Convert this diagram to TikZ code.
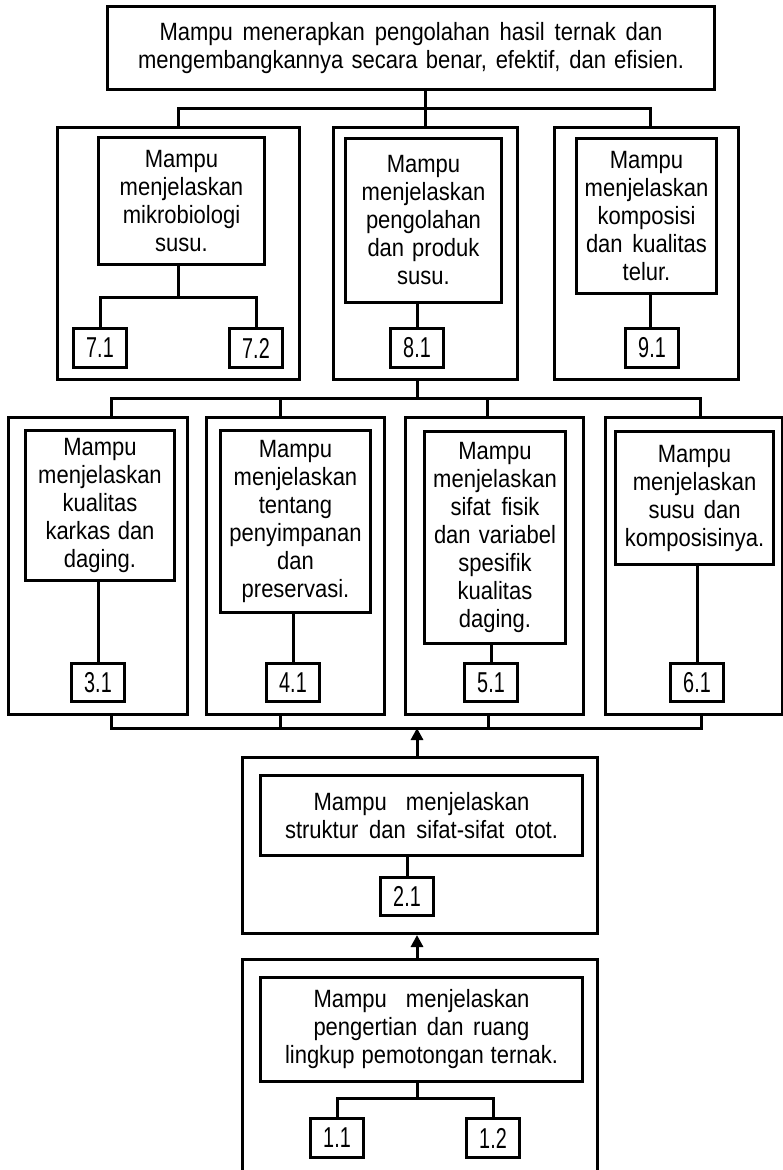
\documentclass[tikz,border=0pt]{standalone}
\usepackage{fontspec}
\setmainfont{Liberation Sans}[FakeStretch=0.88]
\usepackage{graphicx}
\usetikzlibrary{arrows.meta}
\newcommand\jl[2]{\makebox[#1pt][s]{#2}}
\newcommand\nb[1]{\scalebox{0.9}[1.15]{#1}}
\begin{document}
\begin{tikzpicture}[x=1pt,y=-1pt,
  box/.style={draw, line width=3pt, inner sep=0pt, anchor=north west},
  txt/.style={box, align=center, font=\fontsize{25}{28}\selectfont},
  num/.style={box, minimum width=53pt, minimum height=39pt, font=\fontsize{25}{28}\selectfont},
  conn/.style={line width=3pt},
  arr/.style={conn, -{Triangle[length=12pt,width=12pt]}}]
\useasboundingbox (0,0) rectangle (782,1170);

% top
\node[txt, minimum width=607pt, minimum height=83pt] (top) at (106,5)
  {\jl{503}{Mampu menerapkan pengolahan hasil ternak dan}\\\jl{546}{mengembangkannya secara benar, efektif, dan efisien.}};

% row 1
\node[box, minimum width=242pt, minimum height=252pt] (o7) at (56,126) {};
\node[txt, minimum width=166pt, minimum height=127pt] (i7) at (97,136) {Mampu\\menjelaskan\\mikrobiologi\\susu.};
\node[num] (n71) at (72,327) {\nb{7.1}};
\node[num] (n72) at (228,327) {\nb{7.2}};

\node[box, minimum width=184pt, minimum height=252pt] (o8) at (332,126) {};
\node[txt, minimum width=156pt, minimum height=164pt] (i8) at (344,137) {Mampu\\menjelaskan\\pengolahan\\\jl{112}{dan produk}\\susu.};
\node[num] (n81) at (389,327) {\nb{8.1}};

\node[box, minimum width=184pt, minimum height=252pt] (o9) at (553,126) {};
\node[txt, minimum width=140pt, minimum height=155pt] (i9) at (575,137) {Mampu\\menjelaskan\\komposisi\\\jl{121}{dan kualitas}\\telur.};
\node[num] (n91) at (624,327) {\nb{9.1}};

% row 2
\node[box, minimum width=179pt, minimum height=297pt] (o3) at (7,416) {};
\node[txt, minimum width=149pt, minimum height=150pt] (i3) at (24,429) {Mampu\\menjelaskan\\kualitas\\\jl{109}{karkas dan}\\daging.};
\node[num, minimum height=38pt] (n31) at (70,662) {\nb{3.1}};

\node[box, minimum width=178pt, minimum height=297pt] (o4) at (205,416) {};
\node[txt, minimum width=150pt, minimum height=182pt] (i4) at (219,429) {Mampu\\menjelaskan\\tentang\\penyimpanan\\dan\\preservasi.};
\node[num, minimum height=38pt] (n41) at (265,662) {\nb{4.1}};

\node[box, minimum width=178pt, minimum height=297pt] (o5) at (404,416) {};
\node[txt, minimum width=141pt, minimum height=212pt] (i5) at (423,430) {Mampu\\menjelaskan\\\jl{89}{sifat fisik}\\\jl{122}{dan variabel}\\spesifik\\kualitas\\daging.};
\node[num, minimum height=38pt] (n51) at (463,662) {\nb{5.1}};

\node[box, minimum width=177pt, minimum height=297pt] (o6) at (604,416) {};
\node[txt, minimum width=158pt, minimum height=133pt] (i6) at (614,430) {Mampu\\menjelaskan\\\jl{92}{susu dan}\\komposisinya.};
\node[num, minimum height=38pt] (n61) at (669,662) {\nb{6.1}};

% box 2
\node[box, minimum width=355pt, minimum height=176pt] (o2) at (241,756) {};
\node[txt, minimum width=322pt, minimum height=80pt] (i2) at (259,774) {\jl{216}{Mampu menjelaskan}\\\jl{273}{struktur dan sifat-sifat otot.}};
\node[num, minimum height=38pt] (n21) at (379,876) {\nb{2.1}};

% box 1
\node[box, minimum width=355pt, minimum height=240pt] (o1) at (241,958) {};
\node[txt, minimum width=322pt, minimum height=104pt] (i1) at (259,976) {\jl{216}{Mampu menjelaskan}\\\jl{216}{pengertian dan ruang}\\\jl{273}{lingkup pemotongan ternak.}};
\node[num] (n11) at (309,1117) {\nb{1.1}};
\node[num] (n12) at (465,1117) {\nb{1.2}};

% bus coordinates
\coordinate (busT) at (0,108);
\coordinate (b7) at (0,297);
\coordinate (busM) at (0,398);
\coordinate (busB) at (0,728);
\coordinate (b1) at (0,1098);

% top tree
\draw[conn] (top.south -| o8.north) -- (o8.north |- busT);
\draw[conn] ([xshift=4pt]o9.north) -- ([xshift=4pt]o9.north |- busT) -- (o7.north |- busT) -- (o7.north);
\draw[conn] (o8.north |- busT) -- (o8.north);

% inside row 1
\draw[conn] ([xshift=-3pt]i7.south) -- ([xshift=-3pt]i7.south |- b7);
\draw[conn] (n71.north) -- (n71.north |- b7) -- (n72.north |- b7) -- (n72.north);
\draw[conn] (i8.south -| n81.north) -- (n81.north);
\draw[conn] ([xshift=-2pt]n91.north |- i9.south) -- ([xshift=-2pt]n91.north);

% middle bus
\draw[conn] (o8.south -| n81.north) -- (n81.north |- busM);
\draw[conn] ([xshift=13.5pt]o3.north) -- ([xshift=13.5pt]o3.north |- busM) -- ([xshift=6.5pt]o6.north |- busM) -- ([xshift=6.5pt]o6.north);
\draw[conn] ([xshift=-15pt]o4.north) -- ([xshift=-15pt]o4.north |- busM);
\draw[conn] ([xshift=-7pt]o5.north) -- ([xshift=-7pt]o5.north |- busM);

% inside row 2
\draw[conn] (i3.south -| n31.north) -- (n31.north);
\draw[conn] (i4.south -| n41.north) -- (n41.north);
\draw[conn] (i5.south -| n51.north) -- (n51.north);
\draw[conn] (i6.south -| n61.north) -- (n61.north);

% bottom bus
\draw[conn] ([xshift=13.5pt]o3.south) -- ([xshift=13.5pt]o3.south |- busB) -- ([xshift=7pt]o6.south |- busB) -- ([xshift=7pt]o6.south);
\draw[conn] ([xshift=-15pt]o4.south) -- ([xshift=-15pt]o4.south |- busB);
\draw[conn] ([xshift=-6pt]o5.south) -- ([xshift=-6pt]o5.south |- busB);

% arrows
\draw[arr] (o2.north -| n81.north) -- (n81.north |- busB);
\draw[arr] (o1.north -| n81.north) -- (o2.south -| n81.north);

% inside box 2 and 1
\draw[conn] (i2.south -| n21.north) -- (n21.north);
\draw[conn] (i1.south -| n81.north) -- (n81.north |- b1);
\draw[conn] (n11.north) -- (n11.north |- b1) -- (n12.north |- b1) -- (n12.north);
\end{tikzpicture}
\end{document}
